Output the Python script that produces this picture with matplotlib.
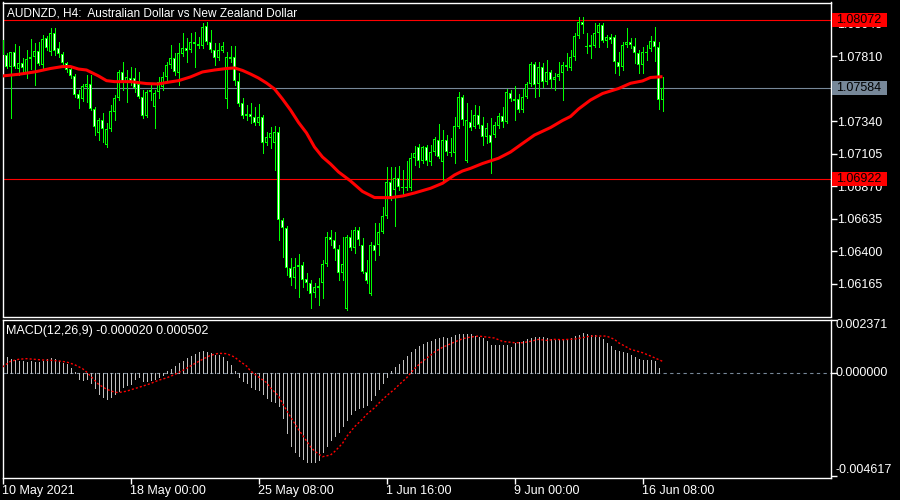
import numpy as np
import matplotlib
matplotlib.use("Agg")
import matplotlib.pyplot as plt
from matplotlib.patches import Rectangle
from matplotlib.transforms import blended_transform_factory

plt.rcParams["font.family"] = ["Liberation Sans", "DejaVu Sans"]

# ── Data: AUDNZD H4 candles (bar 0 = left edge) ──────────────────────────────

opens = [
    1.07929, 1.07821, 1.07731, 1.07840, 1.07719, 1.07760, 1.07688, 1.07792, 1.07804, 1.07849,
    1.07748, 1.07941, 1.07840, 1.07982, 1.07869, 1.07826, 1.07765, 1.07717, 1.07669, 1.07536,
    1.07500, 1.07591, 1.07611, 1.07428, 1.07254, 1.07351, 1.07170, 1.07283, 1.07411, 1.07507,
    1.07700, 1.07627, 1.07652, 1.07656, 1.07611, 1.07515, 1.07380, 1.07568, 1.07442, 1.07555,
    1.07591, 1.07659, 1.07748, 1.07797, 1.07688, 1.07826, 1.07869, 1.07857, 1.07912, 1.07900,
    1.07886, 1.08030, 1.07912, 1.07857, 1.07797, 1.07852, 1.07500, 1.07808, 1.07808, 1.07635,
    1.07471, 1.07380, 1.07394, 1.07370, 1.07327, 1.07370, 1.07186, 1.07223, 1.07182, 1.07262,
    1.06628, 1.06567, 1.06278, 1.06206, 1.06286, 1.06302, 1.06199, 1.06170, 1.06097, 1.06150,
    1.06170, 1.06310, 1.06502, 1.06483, 1.06416, 1.06246, 1.05982, 1.06502, 1.06423, 1.06555,
    1.06447, 1.06254, 1.06092, 1.06447, 1.06447, 1.06543, 1.06657, 1.06900, 1.06844, 1.06929,
    1.06868, 1.06857, 1.06857, 1.07074, 1.07158, 1.07056, 1.07158, 1.07049, 1.07121, 1.07206,
    1.07049, 1.07206, 1.07121, 1.07110, 1.07302, 1.07515, 1.07056, 1.07338, 1.07302, 1.07387,
    1.07314, 1.07230, 1.07242, 1.07242, 1.07307, 1.07380, 1.07338, 1.07544, 1.07500, 1.07500,
    1.07423, 1.07519, 1.07611, 1.07755, 1.07611, 1.07731, 1.07627, 1.07700, 1.07640, 1.07664,
    1.07688, 1.07748, 1.07724, 1.07804, 1.07958, 1.08061, 1.07886, 1.07876, 1.07886, 1.07977,
    1.08037, 1.07924, 1.07948, 1.07948, 1.07772, 1.07731, 1.07893, 1.07917, 1.07886, 1.07833,
    1.07748, 1.07845, 1.07862, 1.07924, 1.07876, 1.07495,
]
highs = [
    1.08081, 1.07838, 1.07845, 1.07898, 1.07886, 1.07799, 1.07857, 1.07934, 1.07909, 1.07914,
    1.07965, 1.07958, 1.08014, 1.08014, 1.07917, 1.07845, 1.07772, 1.07741, 1.07683, 1.07568,
    1.07609, 1.07676, 1.07676, 1.07447, 1.07363, 1.07399, 1.07327, 1.07459, 1.07531, 1.07712,
    1.07772, 1.07712, 1.07736, 1.07724, 1.07700, 1.07568, 1.07568, 1.07604, 1.07568, 1.07664,
    1.07700, 1.07772, 1.07893, 1.07835, 1.07905, 1.07977, 1.07941, 1.07977, 1.07989, 1.07953,
    1.08050, 1.08061, 1.08001, 1.07905, 1.07905, 1.07917, 1.07845, 1.07886, 1.07886, 1.07688,
    1.07507, 1.07459, 1.07471, 1.07447, 1.07466, 1.07387, 1.07266, 1.07302, 1.07307, 1.07302,
    1.06642, 1.06584, 1.06353, 1.06350, 1.06382, 1.06326, 1.06242, 1.06194, 1.06174, 1.06206,
    1.06338, 1.06543, 1.06555, 1.06539, 1.06447, 1.06502, 1.06519, 1.06555, 1.06579, 1.06579,
    1.06495, 1.06338, 1.06471, 1.06608, 1.06608, 1.06724, 1.07013, 1.07013, 1.07013, 1.07018,
    1.06989, 1.07054, 1.07110, 1.07163, 1.07175, 1.07163, 1.07170, 1.07170, 1.07230, 1.07322,
    1.07278, 1.07242, 1.07218, 1.07374, 1.07555, 1.07531, 1.07476, 1.07423, 1.07459, 1.07452,
    1.07374, 1.07327, 1.07363, 1.07338, 1.07399, 1.07442, 1.07572, 1.07568, 1.07596, 1.07539,
    1.07572, 1.07627, 1.07772, 1.07772, 1.07772, 1.07760, 1.07784, 1.07712, 1.07688, 1.07772,
    1.07772, 1.07833, 1.07857, 1.07977, 1.08097, 1.08093, 1.07977, 1.07965, 1.08050, 1.08054,
    1.08050, 1.07965, 1.07972, 1.07965, 1.07845, 1.07917, 1.08014, 1.07941, 1.07941, 1.07857,
    1.07881, 1.07893, 1.07958, 1.08021, 1.07912, 1.07659,
]
lows = [
    1.07806, 1.07724, 1.07363, 1.07726, 1.07676, 1.07698, 1.07652, 1.07717, 1.07604, 1.07748,
    1.07719, 1.07857, 1.07821, 1.07821, 1.07806, 1.07748, 1.07698, 1.07654, 1.07515, 1.07435,
    1.07488, 1.07483, 1.07423, 1.07242, 1.07206, 1.07194, 1.07157, 1.07271, 1.07351, 1.07495,
    1.07568, 1.07483, 1.07604, 1.07553, 1.07507, 1.07363, 1.07375, 1.07495, 1.07290, 1.07507,
    1.07568, 1.07640, 1.07726, 1.07676, 1.07604, 1.07813, 1.07772, 1.07842, 1.07736, 1.07869,
    1.07871, 1.07900, 1.07842, 1.07748, 1.07784, 1.07842, 1.07439, 1.07770, 1.07604, 1.07452,
    1.07365, 1.07351, 1.07327, 1.07314, 1.07314, 1.07114, 1.07170, 1.07146, 1.06989, 1.06483,
    1.06362, 1.06230, 1.06158, 1.06136, 1.06073, 1.06143, 1.06122, 1.05989, 1.06073, 1.06013,
    1.06061, 1.06295, 1.06446, 1.06338, 1.06194, 1.06194, 1.05977, 1.06411, 1.06387, 1.06447,
    1.06244, 1.06172, 1.06085, 1.06338, 1.06374, 1.06534, 1.06642, 1.06772, 1.06584, 1.06844,
    1.06808, 1.06844, 1.06844, 1.07025, 1.07013, 1.07040, 1.07025, 1.07025, 1.07097, 1.07076,
    1.06917, 1.07097, 1.07090, 1.07040, 1.07293, 1.07314, 1.07047, 1.07278, 1.07293, 1.07293,
    1.07170, 1.07186, 1.06965, 1.07228, 1.07293, 1.07302, 1.07329, 1.07488, 1.07351, 1.07408,
    1.07408, 1.07510, 1.07596, 1.07517, 1.07524, 1.07589, 1.07611, 1.07580, 1.07568, 1.07640,
    1.07495, 1.07712, 1.07712, 1.07784, 1.07943, 1.07977, 1.07833, 1.07797, 1.07878, 1.07881,
    1.07914, 1.07881, 1.07907, 1.07688, 1.07676, 1.07712, 1.07878, 1.07871, 1.07760, 1.07688,
    1.07688, 1.07784, 1.07849, 1.07779, 1.07428, 1.07416,
]
closes = [
    1.07821, 1.07731, 1.07840, 1.07731, 1.07760, 1.07724, 1.07792, 1.07804, 1.07849, 1.07753,
    1.07936, 1.07873, 1.07977, 1.07852, 1.07826, 1.07765, 1.07712, 1.07671, 1.07531, 1.07500,
    1.07596, 1.07611, 1.07428, 1.07302, 1.07351, 1.07283, 1.07285, 1.07416, 1.07507, 1.07700,
    1.07620, 1.07664, 1.07627, 1.07580, 1.07515, 1.07380, 1.07555, 1.07551, 1.07544, 1.07623,
    1.07659, 1.07748, 1.07797, 1.07700, 1.07833, 1.07869, 1.07852, 1.07912, 1.07898, 1.07886,
    1.08025, 1.07912, 1.07857, 1.07797, 1.07857, 1.07886, 1.07808, 1.07789, 1.07635, 1.07466,
    1.07380, 1.07394, 1.07370, 1.07327, 1.07370, 1.07186, 1.07230, 1.07254, 1.07266, 1.06628,
    1.06567, 1.06278, 1.06206, 1.06290, 1.06302, 1.06194, 1.06170, 1.06092, 1.06145, 1.06134,
    1.06310, 1.06502, 1.06483, 1.06416, 1.06246, 1.06308, 1.06507, 1.06423, 1.06555, 1.06483,
    1.06254, 1.06189, 1.06447, 1.06406, 1.06543, 1.06657, 1.06900, 1.06796, 1.06929, 1.06868,
    1.06857, 1.06868, 1.07078, 1.07110, 1.07054, 1.07158, 1.07054, 1.07121, 1.07211, 1.07085,
    1.07206, 1.07121, 1.07110, 1.07307, 1.07515, 1.07351, 1.07351, 1.07295, 1.07387, 1.07314,
    1.07230, 1.07295, 1.07182, 1.07314, 1.07380, 1.07338, 1.07555, 1.07500, 1.07488, 1.07423,
    1.07519, 1.07611, 1.07755, 1.07604, 1.07731, 1.07627, 1.07700, 1.07640, 1.07659, 1.07683,
    1.07748, 1.07731, 1.07804, 1.07958, 1.08061, 1.08037, 1.07876, 1.07893, 1.07977, 1.08037,
    1.07924, 1.07948, 1.07929, 1.07772, 1.07731, 1.07893, 1.07917, 1.07893, 1.07833, 1.07748,
    1.07845, 1.07833, 1.07924, 1.07876, 1.07495, 1.07584,
]

# moving average (red line), read at a subset of bars
ma_bars = [0, 4, 8, 12, 15, 17, 19, 21, 24, 26, 28, 32, 36, 39, 41, 44, 47, 50, 53, 56,
           58, 60, 62, 64, 66, 68, 70, 72, 74, 76, 78, 80, 82, 84, 87, 90, 93, 97, 100, 103,
           107, 110, 113, 115, 117, 120, 124, 127, 130, 133, 137, 140, 142, 144, 147, 150, 154, 157, 160, 162,
           165]
ma_vals = [1.07669, 1.07681, 1.07698, 1.07723, 1.07737, 1.07737, 1.07719, 1.07712, 1.07669, 1.07635,
           1.07628, 1.07628, 1.07614, 1.07611, 1.07622, 1.07635, 1.07662, 1.07698, 1.07712, 1.07723,
           1.07727, 1.07709, 1.07683, 1.07654, 1.07618, 1.07575, 1.07502, 1.07423, 1.07333, 1.07257,
           1.07155, 1.07083, 1.07033, 1.06975, 1.06910, 1.06834, 1.06790, 1.06789, 1.06801, 1.06823,
           1.06857, 1.06893, 1.06953, 1.06982, 1.07001, 1.07036, 1.07074, 1.07119, 1.07181, 1.07242,
           1.07296, 1.07347, 1.07376, 1.07430, 1.07495, 1.07542, 1.07578, 1.07616, 1.07633, 1.07658,
           1.07664]

# MACD(12,26,9): main values per bar and signal line, both in units of 1e-6
macd_main_e6 = [
    653, 697, 623, 579, 504, 504, 475, 504, 475, 475,
    519, 593, 653, 593, 519, 445, 401, 208, 30, -267,
    -326, -267, -445, -683, -950, -1098, -1157, -1068, -950, -801,
    -623, -534, -490, -267, -208, -386, -386, -341, -267, -208,
    -119, 59, 178, 297, 415, 504, 653, 742, 831, 920,
    964, 920, 861, 801, 772, 712, 534, 356, 59, -178,
    -386, -475, -638, -712, -786, -935, -1128, -1276, -1306, -1484,
    -2018, -2715, -3264, -3531, -3709, -3858, -3976, -4006, -4006, -3902,
    -3561, -3264, -3027, -2819, -2641, -2374, -2137, -1869, -1691, -1602,
    -1543, -1454, -1217, -979, -742, -475, -208, 59, 237, 386,
    564, 742, 920, 1039, 1187, 1276, 1350, 1424, 1499, 1558,
    1588, 1543, 1573, 1662, 1721, 1736, 1736, 1736, 1632, 1588,
    1543, 1424, 1246, 1217, 1217, 1231, 1217, 1157, 1335, 1365,
    1424, 1499, 1543, 1573, 1588, 1573, 1543, 1513, 1454, 1439,
    1469, 1499, 1543, 1617, 1691, 1751, 1706, 1691, 1662, 1602,
    1513, 1335, 1187, 1024, 979, 920, 861, 801, 683, 593,
    549, 549, 549, 534, 193, -20,
]
signal_bars = [0, 2, 4, 6, 8, 10, 12, 14, 16, 18, 20, 21, 22, 23, 24, 26, 28, 29, 31, 32,
               35, 37, 39, 41, 43, 45, 47, 50, 52, 54, 56, 58, 59, 61, 62, 64, 66, 67, 69, 70,
               72, 74, 75, 77, 78, 80, 82, 83, 85, 86, 88, 90, 91, 93, 94, 96, 98, 99, 101, 103,
               105, 107, 108, 110, 113, 115, 117, 119, 121, 123, 125, 128, 130, 132, 134, 136, 138, 140, 143, 145,
               147, 149, 151, 153, 154, 156, 157, 160, 162, 165]
signal_e6 = [252, 504, 593, 623, 593, 564, 549, 519, 475, 356, 178, 30, -148, -341, -519, -742, -875, -890, -831, -772,
             -608, -490, -341, -237, -89, 89, 297, 593, 772, 861, 846, 697, 549, 297, 74, -193, -445, -683, -1039, -1380,
             -1973, -2537, -2789, -3309, -3502, -3754, -3680, -3531, -3160, -2864, -2418, -2077, -1869, -1573, -1380, -1039, -742, -564, -237, 178,
             504, 772, 920, 1128, 1365, 1513, 1588, 1632, 1588, 1543, 1395, 1335, 1335, 1395, 1484, 1439, 1484, 1469, 1499, 1558,
             1632, 1632, 1632, 1484, 1335, 1142, 1039, 890, 742, 504]

price_ticks = [1.06165, 1.06400, 1.06635, 1.06870, 1.07105, 1.07340, 1.07575, 1.07810, 1.08045]
price_marks = [(1.08072, "#ff0000"), (1.07584, "#778899"), (1.06922, "#ff0000")]
macd_ticks = [0.002371, 0.0, -0.004617]
time_bars = [0, 32, 64, 96, 128, 160]
time_labels = ["10 May 2021", "18 May 00:00", "25 May 08:00", "1 Jun 16:00", "9 Jun 00:00", "16 Jun 08:00"]

TITLE = "AUDNZD, H4:  Australian Dollar vs New Zealand Dollar"
MACD_LABEL = "MACD(12,26,9) -0.000020 0.000502"

LIME = "#00ff00"
SILVER = "#c0c0c0"
SLATE = "#778899"
W, H = 900, 500
PRICE_LIM = (1.059299, 1.082001)
PX = (PRICE_LIM[1] - PRICE_LIM[0]) / 314   # price per screen pixel


def px_axes(fig, x0, y0, x1, y1):
    # place axes using pixel edges measured from the top-left corner
    return fig.add_axes([x0 / W, 1 - y1 / H, (x1 - x0) / W, (y1 - y0) / H])


def style_axes(ax):
    ax.set_facecolor("black")
    for sp in ax.spines.values():
        sp.set_color("white")
        sp.set_linewidth(1.0)
    ax.set_xlim(0, 207)   # 4 px per bar, bar centres on pixel centres


fig = plt.figure(figsize=(9, 5), dpi=100, facecolor="black")
ax = px_axes(fig, 2.5, 2.5, 830.5, 316.5)
axm = px_axes(fig, 2.5, 319.5, 830.5, 477.5)
style_axes(ax)
style_axes(axm)

# ── Price panel ───────────────────────────────────────────────────────────────
x = np.arange(len(closes))
ax.set_ylim(*PRICE_LIM)

for price, col in price_marks:
    ax.axhline(price, color=col, lw=0.8, zorder=1)

ax.vlines(x, lows, highs, color=LIME, lw=0.72, zorder=2, antialiased=False)
for xi, o, c in zip(x, opens, closes):
    lo, hi = min(o, c), max(o, c)
    h = max(hi - lo, PX)
    # 3 px lime body with a 1 px core: black for up bars, white for down bars
    ax.add_patch(Rectangle((xi - 0.375, lo), 0.75, h, facecolor=LIME,
                           edgecolor="none", zorder=3, antialiased=False))
    if h > 2.2 * PX:
        core = "black" if c > o else "white"
        ax.add_patch(Rectangle((xi - 0.125, lo + PX), 0.25, h - 2 * PX, facecolor=core,
                               edgecolor="none", zorder=3.5, antialiased=False))

ax.plot(ma_bars, ma_vals, color="#ff0000", lw=2.2, zorder=4, solid_capstyle="butt")

ax.yaxis.tick_right()
ax.set_yticks(price_ticks)
ax.set_yticklabels([f"{p:.5f}" for p in price_ticks])
ax.tick_params(axis="y", colors="white", length=4, width=1, labelsize=9, pad=1)
ax.set_xticks([])

trans = blended_transform_factory(ax.transAxes, ax.transData)
box_h = 14 * PX
for price, col in price_marks:
    ax.add_patch(Rectangle((1.0024, price - box_h / 2), 0.0664, box_h, transform=trans,
                           facecolor=col, edgecolor="none", clip_on=False, zorder=5))
    ax.text(1.0066, price, f"{price:.5f}", transform=trans, color="black", fontsize=9,
            va="center", ha="left", clip_on=False, zorder=6)

fig.text(7 / W, 1 - 16 / H, TITLE, color="white", fontsize=8.6, va="baseline", ha="left")

# ── MACD panel ────────────────────────────────────────────────────────────────
macd_main = np.array(macd_main_e6) * 1e-6
signal = np.array(signal_e6) * 1e-6
axm.set_ylim(-0.004683, 0.002350)

axm.axhline(0, color=SLATE, lw=0.8, ls=(0, (3, 3)), zorder=1)
axm.vlines(x, 0, macd_main, color=SILVER, lw=0.72, zorder=2, antialiased=False)
axm.plot(signal_bars, signal, color="#ff0000", lw=1.0, ls=(0, (1.5, 1.5)), zorder=3)

axm.yaxis.tick_right()
axm.set_yticks(macd_ticks)
axm.set_yticklabels([])
axm.tick_params(axis="y", colors="white", length=4, width=1)
mtrans = blended_transform_factory(axm.transAxes, axm.transData)
for val, va in zip(macd_ticks, ["top", "center", "bottom"]):
    axm.text(1.0066, val, f"{val:.6f}", transform=mtrans, color="white", fontsize=9,
             va=va, ha="left", clip_on=False)

axm.set_xticks(time_bars)
axm.set_xticklabels(time_labels, ha="left")
axm.tick_params(axis="x", colors="white", length=4, width=1, labelsize=9, pad=1.5)

fig.text(6 / W, 1 - 334 / H, MACD_LABEL, color="white", fontsize=9, va="baseline", ha="left")

fig.savefig("out.png", dpi=100, facecolor="black")
